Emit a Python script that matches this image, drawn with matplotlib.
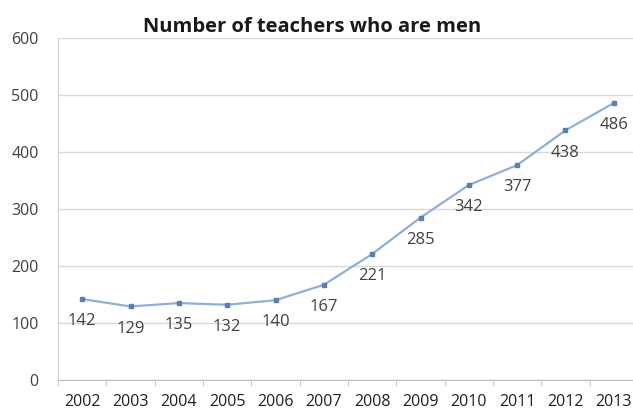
import matplotlib.pyplot as plt
import numpy as np

years = ['2002', '2003', '2004', '2005', '2006', '2007', '2008', '2009', '2010', '2011', '2012', '2013']
teachers = [142, 129, 135, 132, 140, 167, 221, 285, 342, 377, 438, 486]
y_ticks = [0, 100, 200, 300, 400, 500, 600]

plt.rcParams['font.family'] = ['Open Sans', 'DejaVu Sans']

fig = plt.figure(figsize=(6.33, 4.18), dpi=100)
ax = fig.add_axes([58 / 633, 38 / 418, 580 / 633, 342 / 418])

x = np.arange(len(years))
ax.plot(x, teachers, color='#8fb0d6', linewidth=1.6, marker='s', markersize=3.5,
        markerfacecolor='#5a7fb0', markeredgecolor='#5a7fb0', zorder=3)

for xi, v in zip(x, teachers):
    ax.annotate(str(v), (xi, v), xytext=(0, -16), textcoords='offset points',
                ha='center', va='center', fontsize=12, color='#404040')

ax.set_xlim(-0.5, len(years) - 0.5)
ax.set_ylim(0, 600)
ax.set_yticks(y_ticks)
ax.set_xticks(x)
ax.set_xticklabels(years)
ax.set_xticks(np.arange(-0.5, len(years)), minor=True)

ax.grid(axis='y', color='#d9d9d9', linewidth=1)
ax.set_axisbelow(True)
for side in ['top', 'right']:
    ax.spines[side].set_visible(False)
ax.spines['left'].set_color('#d0d0d0')
ax.spines['bottom'].set_color('#c0c0c0')

ax.tick_params(axis='y', length=0, pad=14, labelsize=11.5, labelcolor='#404040')
ax.tick_params(axis='x', which='major', length=0, pad=10, labelsize=11.5, labelcolor='#202020')
ax.tick_params(axis='x', which='minor', length=4, color='#c0c0c0')

fig.text(312 / 633, 1 - 27 / 418, 'Number of teachers who are men', ha='center', va='center',
         fontsize=14.5, fontweight='bold', color='#1a1a1a')

fig.savefig('out.png', dpi=100)
